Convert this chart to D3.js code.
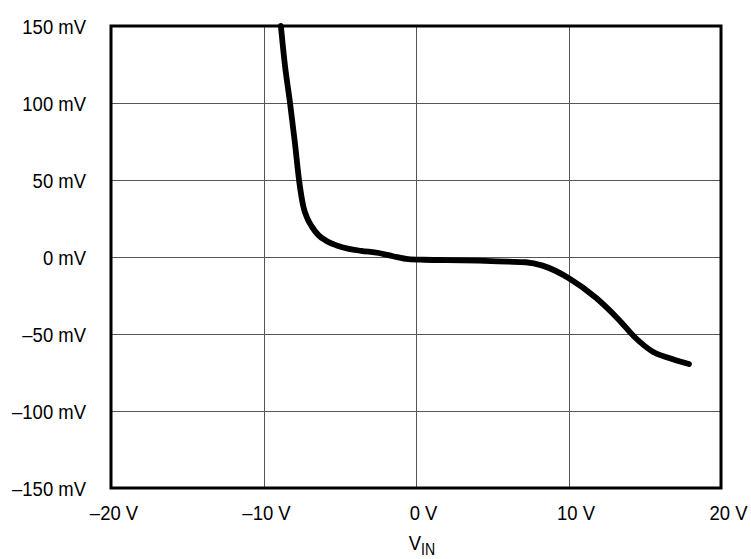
<!DOCTYPE html>
<html>
<head>
<meta charset="utf-8">
<script src="https://cdn.jsdelivr.net/npm/d3@7"></script>
<style>
  html, body { margin: 0; padding: 0; background: #fff; }
  svg { display: block; }
  text { font-family: "Liberation Sans", Arial, sans-serif; fill: #000; }
</style>
</head>
<body>
<script>
// Input voltage (V) and output error (mV) along the transfer curve
const vin = [-8.86, -8.6, -8.26, -7.95, -7.67, -7.39, -7.1, -6.84, -6.4, -5.9, -5.2, -4.4, -3.6, -2.45, -1.5, -0.5, 0.5, 2.0, 4.1, 6.0, 7.2, 8.3, 10.0, 11.8, 13.3, 14.4, 15.5, 16.6, 17.9];
const vout = [150, 125, 100, 75, 50, 32.9, 24.5, 19.9, 14.2, 10.6, 7.5, 5.3, 4.0, 2.6, 0.5, -1.4, -1.8, -2.0, -2.4, -3.0, -3.4, -5.6, -13.6, -26.5, -40.7, -52.6, -61.3, -65.6, -69.5];

const xTicks = [-20, -10, 0, 10, 20];
const yTicks = [150, 100, 50, 0, -50, -100, -150];

const W = 751, H = 559;
const mLeft = 111, mRight = 721, mTop = 26, mBottom = 488;
const fontSize = 21, squeeze = 0.88;

const x = d3.scaleLinear().domain([-20, 20]).range([mLeft, mRight]);
const y = d3.scaleLinear().domain([-150, 150]).range([mBottom, mTop]);

const svg = d3.select("body").append("svg").attr("width", W).attr("height", H);

// grid lines
const grid = svg.append("g").attr("stroke", "#555").attr("stroke-width", 1).attr("shape-rendering", "crispEdges");
grid.selectAll("line.v").data(xTicks.slice(1, -1)).join("line")
  .attr("x1", d => Math.round(x(d)) + 0.5).attr("x2", d => Math.round(x(d)) + 0.5)
  .attr("y1", mTop).attr("y2", mBottom);
grid.selectAll("line.h").data(yTicks.slice(1, -1)).join("line")
  .attr("y1", d => Math.round(y(d)) + 0.5).attr("y2", d => Math.round(y(d)) + 0.5)
  .attr("x1", mLeft).attr("x2", mRight);

// data curve
const line = d3.line().x((d, i) => x(vin[i])).y(d => y(d)).curve(d3.curveMonotoneX);
svg.append("path").datum(vout)
  .attr("d", line)
  .attr("fill", "none").attr("stroke", "#000").attr("stroke-width", 5.8)
  .attr("stroke-linecap", "round").attr("stroke-linejoin", "round");

// plot frame
svg.append("rect")
  .attr("x", mLeft).attr("y", mTop).attr("width", mRight - mLeft).attr("height", mBottom - mTop)
  .attr("fill", "none").attr("stroke", "#000").attr("stroke-width", 3);

const fmt = (d, unit) => (d < 0 ? "\u2013" + Math.abs(d) : String(d)) + " " + unit;

// y axis labels (slightly condensed face)
const yAxis = svg.append("g").attr("transform", `translate(${mLeft},0)`)
  .call(d3.axisLeft(y).tickValues(yTicks).tickSize(0).tickPadding(25).tickFormat(d => fmt(d, "mV")));
yAxis.select(".domain").remove();
yAxis.selectAll("text").attr("font-size", fontSize).attr("font-family", "Liberation Sans, Arial, sans-serif")
  .attr("dy", "0.36em")
  .each(function () {
    const t = d3.select(this);
    const tx = +t.attr("x");
    t.attr("x", 0).attr("transform", `translate(${tx},0) scale(${squeeze},1)`);
  });

// x axis labels
const xAxis = svg.append("g").attr("transform", `translate(0,${mBottom})`)
  .call(d3.axisBottom(x).tickValues(xTicks).tickSize(0).tickPadding(17).tickFormat(d => fmt(d, "V")));
xAxis.select(".domain").remove();
xAxis.selectAll("text").attr("font-size", fontSize).attr("font-family", "Liberation Sans, Arial, sans-serif")
  .attr("dy", "0.71em")
  .attr("transform", d => `translate(${d >= 0 ? 7 : 2.5},0) scale(${squeeze},1)`);

// axis title
const title = svg.append("text")
  .attr("transform", `translate(${x(0) + 6},550) scale(${squeeze},1)`)
  .attr("text-anchor", "middle").attr("font-size", fontSize);
title.append("tspan").text("V");
title.append("tspan").attr("font-size", 16).attr("dy", 5).text("IN");
</script>
</body>
</html>
